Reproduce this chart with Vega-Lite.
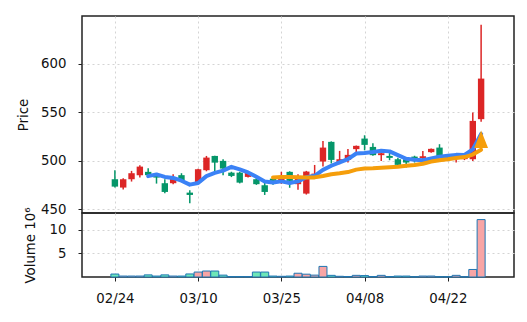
{
  "$schema": "https://vega.github.io/schema/vega-lite/v6.json",
  "padding": {"left": 15, "top": 15, "right": 10, "bottom": 5},
  "spacing": 0,
  "bounds": "flush",
  "config": {
    "font": "DejaVu Sans",
    "view": {"stroke": "#222", "strokeWidth": 1.5},
    "axis": {"labelFont": "DejaVu Sans", "labelFontSize": 13.3, "labelColor": "#111", "titleFont": "DejaVu Sans", "titleFontSize": 13.3, "titleFontWeight": "normal", "titleColor": "#111", "tickColor": "#222", "domain": false, "gridColor": "#d4d4d4", "gridDash": [2, 3], "gridWidth": 1, "tickSize": 4}
  },
  "datasets": {
    "k": [
      {"i": 0, "d": "02/24", "o": 480.8, "h": 490.1, "l": 472.2, "c": 473.2, "v": 0.63, "ma5": null, "ma20": null},
      {"i": 1, "d": "02/25", "o": 472.2, "h": 481.9, "l": 470.1, "c": 480.8, "v": 0.2, "ma5": null, "ma20": null},
      {"i": 2, "d": "02/26", "o": 480.8, "h": 489.4, "l": 478.4, "c": 487.0, "v": 0.2, "ma5": null, "ma20": null},
      {"i": 3, "d": "02/27", "o": 484.9, "h": 495.3, "l": 482.5, "c": 493.8, "v": 0.2, "ma5": null, "ma20": null},
      {"i": 4, "d": "02/28", "o": 488.4, "h": 492.2, "l": 483.5, "c": 485.0, "v": 0.45, "ma5": 484.0, "ma20": null},
      {"i": 5, "d": "03/03", "o": 485.5, "h": 487.0, "l": 476.3, "c": 482.5, "v": 0.2, "ma5": 485.8, "ma20": null},
      {"i": 6, "d": "03/04", "o": 476.7, "h": 480.8, "l": 466.4, "c": 467.7, "v": 0.45, "ma5": 483.2, "ma20": null},
      {"i": 7, "d": "03/05", "o": 476.7, "h": 486.0, "l": 475.7, "c": 481.4, "v": 0.2, "ma5": 482.1, "ma20": null},
      {"i": 8, "d": "03/06", "o": 485.0, "h": 487.0, "l": 478.4, "c": 479.8, "v": 0.2, "ma5": 479.3, "ma20": null},
      {"i": 9, "d": "03/07", "o": 467.0, "h": 469.5, "l": 456.1, "c": 464.6, "v": 0.65, "ma5": 475.2, "ma20": null},
      {"i": 10, "d": "03/10", "o": 477.3, "h": 491.5, "l": 477.0, "c": 491.1, "v": 1.05, "ma5": 476.9, "ma20": null},
      {"i": 11, "d": "03/11", "o": 490.1, "h": 504.8, "l": 489.0, "c": 503.1, "v": 1.27, "ma5": 484.0, "ma20": null},
      {"i": 12, "d": "03/12", "o": 504.8, "h": 505.0, "l": 489.0, "c": 497.9, "v": 1.27, "ma5": 487.3, "ma20": null},
      {"i": 13, "d": "03/13", "o": 499.7, "h": 501.4, "l": 485.0, "c": 491.8, "v": 0.4, "ma5": 489.7, "ma20": null},
      {"i": 14, "d": "03/14", "o": 487.6, "h": 488.5, "l": 483.0, "c": 484.2, "v": 0.08, "ma5": 493.6, "ma20": null},
      {"i": 15, "d": "03/17", "o": 487.6, "h": 488.5, "l": 476.5, "c": 477.3, "v": 0.08, "ma5": 490.9, "ma20": null},
      {"i": 16, "d": "03/18", "o": 483.2, "h": 489.4, "l": 482.5, "c": 487.6, "v": 0.08, "ma5": 487.8, "ma20": null},
      {"i": 17, "d": "03/19", "o": 480.8, "h": 483.0, "l": 475.0, "c": 475.7, "v": 1.05, "ma5": 483.3, "ma20": null},
      {"i": 18, "d": "03/21", "o": 474.6, "h": 477.3, "l": 464.6, "c": 467.7, "v": 1.05, "ma5": 478.5, "ma20": null},
      {"i": 19, "d": "03/24", "o": 481.4, "h": 482.5, "l": 475.0, "c": 479.1, "v": 0.2, "ma5": 477.5, "ma20": 482.6},
      {"i": 20, "d": "03/25", "o": 480.0, "h": 488.5, "l": 476.0, "c": 483.0, "v": 0.15, "ma5": 478.6, "ma20": 483.1},
      {"i": 21, "d": "03/26", "o": 488.4, "h": 489.0, "l": 472.0, "c": 479.1, "v": 0.2, "ma5": 476.9, "ma20": 483.0},
      {"i": 22, "d": "03/27", "o": 475.7, "h": 486.0, "l": 470.0, "c": 484.2, "v": 0.8, "ma5": 478.6, "ma20": 482.8},
      {"i": 23, "d": "03/28", "o": 466.0, "h": 489.4, "l": 465.0, "c": 488.7, "v": 0.6, "ma5": 482.8, "ma20": 482.6},
      {"i": 24, "d": "03/31", "o": 482.5, "h": 495.5, "l": 482.0, "c": 486.6, "v": 0.4, "ma5": 484.3, "ma20": 482.7},
      {"i": 25, "d": "04/01", "o": 499.0, "h": 520.3, "l": 494.0, "c": 513.4, "v": 2.25, "ma5": 490.4, "ma20": 484.2},
      {"i": 26, "d": "04/02", "o": 519.3, "h": 519.8, "l": 497.0, "c": 500.7, "v": 0.35, "ma5": 494.7, "ma20": 485.9},
      {"i": 27, "d": "04/03", "o": 497.6, "h": 510.0, "l": 496.3, "c": 501.4, "v": 0.15, "ma5": 498.2, "ma20": 486.9},
      {"i": 28, "d": "04/04", "o": 500.7, "h": 512.0, "l": 498.0, "c": 505.9, "v": 0.1, "ma5": 501.6, "ma20": 488.2},
      {"i": 29, "d": "04/07", "o": 511.8, "h": 515.5, "l": 508.2, "c": 515.2, "v": 0.35, "ma5": 507.3, "ma20": 490.7},
      {"i": 30, "d": "04/08", "o": 522.7, "h": 526.1, "l": 510.6, "c": 516.2, "v": 0.3, "ma5": 507.9, "ma20": 491.9},
      {"i": 31, "d": "04/09", "o": 514.1, "h": 518.0, "l": 505.0, "c": 505.6, "v": 0.1, "ma5": 508.9, "ma20": 492.1},
      {"i": 32, "d": "04/10", "o": 505.6, "h": 508.0, "l": 499.7, "c": 507.6, "v": 0.35, "ma5": 510.1, "ma20": 492.6},
      {"i": 33, "d": "04/11", "o": 504.8, "h": 510.0, "l": 500.4, "c": 502.8, "v": 0.1, "ma5": 509.5, "ma20": 493.1},
      {"i": 34, "d": "04/14", "o": 501.4, "h": 503.0, "l": 494.0, "c": 495.6, "v": 0.2, "ma5": 505.6, "ma20": 493.7},
      {"i": 35, "d": "04/15", "o": 501.4, "h": 503.0, "l": 492.8, "c": 498.0, "v": 0.2, "ma5": 501.9, "ma20": 494.7},
      {"i": 36, "d": "04/16", "o": 504.1, "h": 505.0, "l": 498.0, "c": 500.4, "v": 0.05, "ma5": 500.9, "ma20": 495.4},
      {"i": 37, "d": "04/17", "o": 502.5, "h": 510.0, "l": 501.4, "c": 504.5, "v": 0.2, "ma5": 500.3, "ma20": 496.8},
      {"i": 38, "d": "04/18", "o": 508.7, "h": 512.5, "l": 508.2, "c": 512.1, "v": 0.2, "ma5": 502.1, "ma20": 499.0},
      {"i": 39, "d": "04/21", "o": 513.4, "h": 516.9, "l": 504.0, "c": 504.8, "v": 0.05, "ma5": 504.0, "ma20": 500.3},
      {"i": 40, "d": "04/22", "o": 505.0, "h": 506.5, "l": 501.5, "c": 503.0, "v": 0.05, "ma5": 505.0, "ma20": 501.3},
      {"i": 41, "d": "04/23", "o": 502.0, "h": 506.0, "l": 498.0, "c": 505.0, "v": 0.35, "ma5": 505.9, "ma20": 502.6},
      {"i": 42, "d": "04/24", "o": 501.5, "h": 505.0, "l": 500.5, "c": 504.0, "v": 0.05, "ma5": 505.8, "ma20": 503.6},
      {"i": 43, "d": "04/25", "o": 501.4, "h": 549.5, "l": 499.7, "c": 540.9, "v": 1.6, "ma5": 511.5, "ma20": 506.2},
      {"i": 44, "d": "04/28", "o": 542.7, "h": 640.0, "l": 540.0, "c": 584.5, "v": 12.2, "ma5": 527.5, "ma20": 511.1, "sig": 522}
    ]
  },
  "resolve": {"scale": {"x": "independent", "y": "independent", "color": "independent"}},
  "vconcat": [
    {
      "width": 432,
      "height": 197,
      "data": {"name": "k"},
      "encoding": {
        "x": {"field": "i", "type": "quantitative", "title": null,
          "scale": {"domain": [-3.35, 47.35], "nice": false, "zero": false},
          "axis": {"values": [0, 10, 20, 30, 40], "labels": false, "ticks": false, "grid": true, "title": null, "maxExtent": 0, "minExtent": 0}}
      },
      "layer": [
        {
          "mark": {"type": "rule", "strokeWidth": 1.5},
          "encoding": {
            "y": {"field": "l", "type": "quantitative", "title": "Price",
              "scale": {"domain": [446, 649], "zero": false, "nice": false},
              "axis": {"values": [450, 500, 550, 600], "labelPadding": 12, "grid": true, "title": "Price", "titlePadding": 10}},
            "y2": {"field": "h"},
            "color": {"condition": {"test": "datum.c >= datum.o", "value": "#dc2626"}, "value": "#059669"}
          }
        },
        {
          "mark": {"type": "bar", "width": 6.4},
          "encoding": {
            "y": {"field": "o", "type": "quantitative", "title": "Price"},
            "y2": {"field": "c"},
            "color": {"condition": {"test": "datum.c >= datum.o", "value": "#dc2626"}, "value": "#059669"}
          }
        },
        {
          "mark": {"type": "line", "strokeWidth": 4, "color": "#3b82f6", "strokeJoin": "round", "strokeCap": "round"},
          "encoding": {"y": {"field": "ma5", "type": "quantitative", "title": "Price"}}
        },
        {
          "mark": {"type": "line", "strokeWidth": 4, "color": "#f59e0b", "strokeJoin": "round", "strokeCap": "round"},
          "encoding": {"y": {"field": "ma20", "type": "quantitative", "title": "Price"}}
        },
        {
          "mark": {"type": "point", "shape": "M0,-1L-0.8,1L0.8,1Z", "filled": true, "size": 300, "color": "#f59e0b", "opacity": 1},
          "encoding": {"y": {"field": "sig", "type": "quantitative", "title": "Price"}}
        }
      ]
    },
    {
      "width": 432,
      "height": 64,
      "data": {"name": "k"},
      "mark": {"type": "bar", "stroke": "#1f77b4", "strokeWidth": 1, "width": 8},
      "encoding": {
        "x": {"field": "i", "type": "quantitative", "title": null,
          "scale": {"domain": [-3.35, 47.35], "nice": false, "zero": false},
          "axis": {"values": [0, 10, 20, 30, 40], "labelExpr": "datum.value == 0 ? '02/24' : datum.value == 10 ? '03/10' : datum.value == 20 ? '03/25' : datum.value == 30 ? '04/08' : '04/22'", "labelPadding": 10, "grid": true, "title": null}},
        "y": {"field": "v", "type": "quantitative", "title": "Volume  10⁶",
          "scale": {"domain": [0, 13.6], "nice": false},
          "axis": {"values": [5, 10], "labelPadding": 12, "grid": true, "titlePadding": 12}},
        "color": {"condition": {"test": "datum.c >= datum.o", "value": "#f8a5a5"}, "value": "#6ee7b7"}
      }
    }
  ]
}
